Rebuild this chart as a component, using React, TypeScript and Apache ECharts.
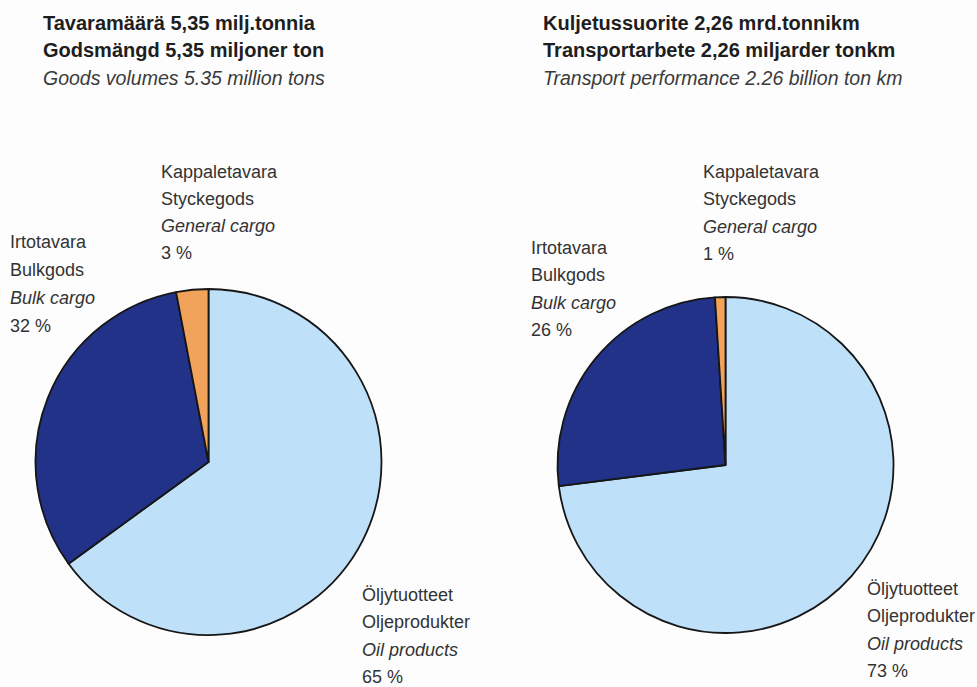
import React, { useEffect, useRef } from "react";
import * as echarts from "echarts";

const categoriesFi = ["Öljytuotteet", "Irtotavara", "Kappaletavara"];
const categoriesSv = ["Oljeprodukter", "Bulkgods", "Styckegods"];
const categoriesEn = ["Oil products", "Bulk cargo", "General cargo"];
const goodsVolumeShares = [65, 32, 3];
const transportPerfShares = [73, 26, 1];
const sliceColors = ["#bfe0f9", "#213288", "#f1a35b"];

const leftTitle = ["Tavaramäärä 5,35 milj.tonnia", "Godsmängd 5,35 miljoner ton", "Goods volumes 5.35 million tons"];
const rightTitle = ["Kuljetussuorite 2,26 mrd.tonnikm", "Transportarbete 2,26 miljarder tonkm", "Transport performance 2.26 billion ton km"];

const FONT = "'Liberation Sans', Arial, sans-serif";

export default function App() {
  const ref = useRef<HTMLDivElement>(null);
  useEffect(() => {
    if (!ref.current) return;
    const chart = echarts.init(ref.current, null, { renderer: "svg" });

    const mkSeries = (vals: number[], center: number[], r: number) => ({
      type: "pie",
      center,
      radius: r,
      startAngle: 90,
      clockwise: true,
      silent: true,
      label: { show: false },
      labelLine: { show: false },
      itemStyle: { borderColor: "#161616", borderWidth: 1.8 },
      data: vals.map((v, i) => ({ value: v, name: categoriesEn[i], itemStyle: { color: sliceColors[i] } })),
    });

    const titleBlock = (lines: string[], x: number, y: number) => ({
      type: "text",
      x,
      y,
      style: {
        text: `{b|${lines[0]}}\n{b|${lines[1]}}\n{i|${lines[2]}}`,
        fontFamily: FONT,
        rich: {
          b: { fontSize: 20, fontWeight: "bold", fill: "#1e1e1e", lineHeight: 27.5, fontFamily: FONT },
          i: { fontSize: 19.5, fontStyle: "italic", fill: "#3a3a3a", lineHeight: 28, fontFamily: FONT },
        },
      },
    });

    const labelBlock = (idx: number, vals: number[], x: number, y: number, lh: number) => ({
      type: "text",
      x,
      y,
      style: {
        text: `{n|${categoriesFi[idx]}}\n{n|${categoriesSv[idx]}}\n{i|${categoriesEn[idx]}}\n{n|${vals[idx]} %}`,
        fontFamily: FONT,
        rich: {
          n: { fontSize: 18, fill: "#333", lineHeight: lh, fontFamily: FONT },
          i: { fontSize: 18, fontStyle: "italic", fill: "#333", lineHeight: lh, fontFamily: FONT },
        },
      },
    });

    chart.setOption({
      animation: false,
      backgroundColor: "#fdfdfd",
      series: [
        mkSeries(goodsVolumeShares, [208.5, 462], 173),
        mkSeries(transportPerfShares, [725.5, 465], 168),
      ],
      graphic: [
        titleBlock(leftTitle, 43, 9),
        titleBlock(rightTitle, 543, 9),
        labelBlock(2, goodsVolumeShares, 161, 158, 27),
        labelBlock(1, goodsVolumeShares, 10, 228, 28),
        labelBlock(0, goodsVolumeShares, 362, 581, 27.5),
        labelBlock(2, transportPerfShares, 703, 158, 27.5),
        labelBlock(1, transportPerfShares, 531, 234, 27.5),
        labelBlock(0, transportPerfShares, 867, 575, 27.5),
      ],
    });
    return () => chart.dispose();
  }, []);
  return <div ref={ref} style={{ position: "fixed", left: 0, top: 0, width: 977, height: 687 }} />;
}
